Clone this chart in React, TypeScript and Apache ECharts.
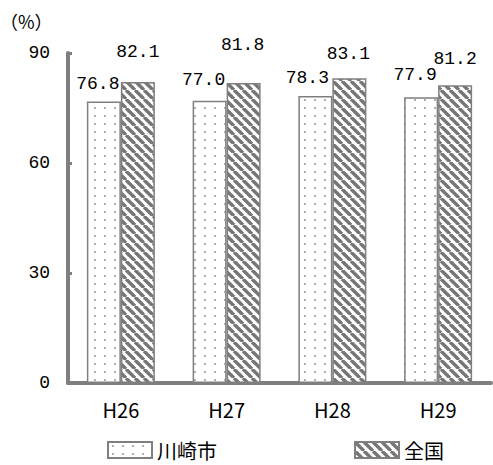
import React, { useEffect, useRef } from "react";
import * as echarts from "echarts";

const categories = ["H26", "H27", "H28", "H29"];
const kawasakiValues = [76.8, 77.0, 78.3, 77.9];
const nationalValues = [82.1, 81.8, 83.1, 81.2];
const seriesNames = ["川崎市", "全国"];
const yTicks = { min: 0, max: 90, interval: 30 };

// label nudges (layout only)
const kawasakiLabelOffsets = [[-6, -3], [-6, -7], [-8, -4], [-6, -8]];
const nationalLabelOffsets = [[0, -16], [-1, -24], [-1, -10], [0, -12]];

function dotPattern(): HTMLCanvasElement {
  const c = document.createElement("canvas");
  c.width = 10;
  c.height = 8;
  const ctx = c.getContext("2d")!;
  ctx.fillStyle = "#ffffff";
  ctx.fillRect(0, 0, 10, 8);
  ctx.fillStyle = "#8a8a8a";
  ctx.beginPath();
  ctx.arc(5, 4, 0.9, 0, Math.PI * 2);
  ctx.fill();
  return c;
}

function hatchPattern(): HTMLCanvasElement {
  const s = 9;
  const c = document.createElement("canvas");
  c.width = s;
  c.height = s;
  const ctx = c.getContext("2d")!;
  ctx.fillStyle = "#ffffff";
  ctx.fillRect(0, 0, s, s);
  ctx.strokeStyle = "#767676";
  ctx.lineWidth = 3.4;
  for (let k = -1; k <= 1; k++) {
    ctx.beginPath();
    ctx.moveTo(k * s, 0);
    ctx.lineTo(k * s + s, s);
    ctx.stroke();
  }
  return c;
}

export default function App() {
  const ref = useRef<HTMLDivElement>(null);
  useEffect(() => {
    document.body.style.margin = "0";
    const chart = echarts.init(ref.current!, null, { renderer: "svg" });
    const numFont = "'Liberation Mono', monospace";
    const cjkFont = "'Noto Sans CJK JP', sans-serif";
    const mk = (
      name: string,
      values: number[],
      offsets: number[][],
      pattern: HTMLCanvasElement
    ) => ({
      name,
      type: "bar",
      barWidth: 34,
      barGap: "0%",
      itemStyle: {
        color: { image: pattern, repeat: "repeat" },
        borderColor: "#7f7f7f",
        borderWidth: 1.5,
      },
      label: {
        show: true,
        position: "top",
        color: "#000",
        fontSize: 18,
        fontFamily: numFont,
        formatter: (p: any) => Number(p.value).toFixed(1),
      },
      data: values.map((v, i) => ({ value: v, label: { offset: offsets[i] } })),
    });
    chart.setOption({
      animation: false,
      backgroundColor: "#ffffff",
      grid: { left: 68, right: 2, top: 53, bottom: 82 },
      graphic: [
        {
          type: "text",
          left: 0,
          top: 12,
          style: { text: "（%）", fontSize: 18, fontFamily: cjkFont, fill: "#000" },
        },
      ],
      legend: {
        left: 102,
        top: 435,
        padding: 5,
        itemWidth: 44,
        itemHeight: 16,
        itemGap: 137,
        icon: "rect",
        textStyle: { fontSize: 20, fontFamily: cjkFont, color: "#000" },
        data: seriesNames,
      },
      xAxis: {
        type: "category",
        data: categories,
        axisLine: { lineStyle: { color: "#7f7f7f", width: 4 } },
        axisTick: { inside: true, length: 4, lineStyle: { color: "#7f7f7f", width: 3 } },
        axisLabel: { margin: 16, fontSize: 20, fontFamily: cjkFont, color: "#000" },
      },
      yAxis: {
        type: "value",
        min: yTicks.min,
        max: yTicks.max,
        interval: yTicks.interval,
        axisLine: { show: true, lineStyle: { color: "#7f7f7f", width: 4 } },
        axisTick: { show: true, inside: true, length: 4, lineStyle: { color: "#7f7f7f", width: 3 } },
        splitLine: { show: false },
        axisLabel: { margin: 18, fontSize: 18, fontFamily: numFont, color: "#000" },
      },
      series: [
        mk(seriesNames[0], kawasakiValues, kawasakiLabelOffsets, dotPattern()),
        mk(seriesNames[1], nationalValues, nationalLabelOffsets, hatchPattern()),
      ],
    });
    return () => chart.dispose();
  }, []);
  return (
    <div
      ref={ref}
      style={{ position: "fixed", left: 0, top: 0, width: 493, height: 465 }}
    />
  );
}
